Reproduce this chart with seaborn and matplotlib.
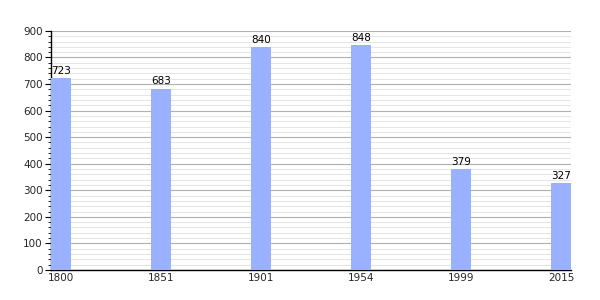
import matplotlib
matplotlib.use("Agg")
import matplotlib.pyplot as plt
import seaborn as sns
import pandas as pd
from matplotlib.ticker import MultipleLocator

years = ["1800", "1851", "1901", "1954", "1999", "2015"]
population = [723, 683, 840, 848, 379, 327]

sns.set_theme(style="white")
plt.rcParams['font.family'] = ['DejaVu Sans']

df = pd.DataFrame({"year": years, "pop": population})

fig = plt.figure(figsize=(6, 3), dpi=100)
ax = fig.add_axes([0.085, 0.1, 0.867, 0.797])

sns.barplot(data=df, x="year", y="pop", color="#99b1ff", saturation=1, width=0.2,
            linewidth=0, edgecolor="none", ax=ax, zorder=3)

ax.set_xlim(-0.1, 5.1)
ax.set_ylim(0, 900)
ax.yaxis.set_major_locator(MultipleLocator(100))
ax.yaxis.set_minor_locator(MultipleLocator(20))
ax.grid(axis="y", which="major", color="#b0b0b0", linewidth=0.8, zorder=0)
ax.grid(axis="y", which="minor", color="#e0e0e0", linewidth=0.6, zorder=0)
ax.set_axisbelow(True)

for s in ["top", "right"]:
    ax.spines[s].set_visible(False)
for s in ["left", "bottom"]:
    ax.spines[s].set_color("black")
    ax.spines[s].set_linewidth(1.0)

ax.tick_params(axis="y", which="major", left=True, length=4, width=0.8, color="black", labelsize=7.5, pad=2)
ax.tick_params(axis="y", which="minor", left=True, length=2, width=0.6, color="black")
ax.tick_params(axis="x", bottom=False, length=0, labelsize=7.5, pad=2)
ax.set_xlabel("")
ax.set_ylabel("")

for i, v in enumerate(population):
    ax.text(i, v + 8, str(v), ha="center", va="bottom", fontsize=7.5, color="black")

fig.savefig("out.png", dpi=100)
